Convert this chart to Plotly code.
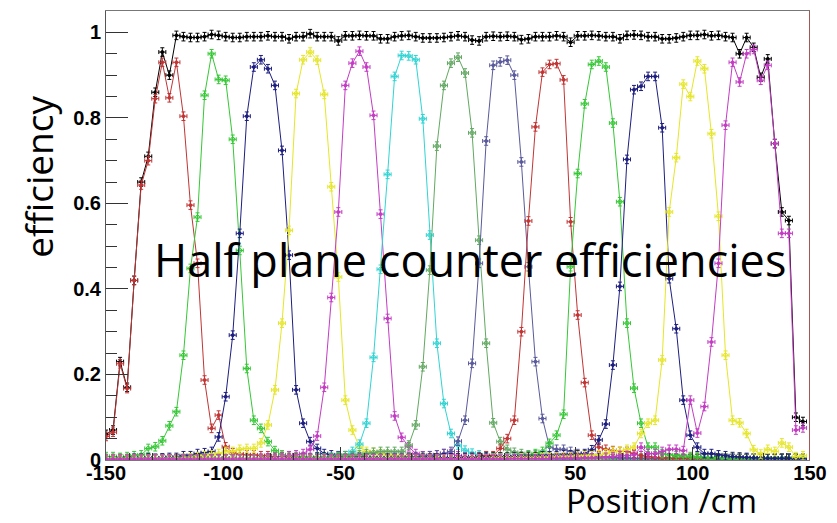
import plotly.graph_objects as go

# bin centres (cm)
positions_cm = list(range(-150, 150, 3))  # 100 bins

red_a = [0.055, 0.065, 0.225, 0.167, 0.42, 0.643, 0.70, 0.845, 0.93, 0.847,
         0.93, 0.804, 0.596, 0.46, 0.187, 0.074, 0.105, 0.031, 0.017, 0.014,
         0.012, 0.012, 0.01, 0.01, 0.008, 0.008, 0.006, 0.006, 0.005, 0.005,
         0.005, 0.004, 0.004, 0.004, 0.004, 0.004, 0.003, 0.003, 0.004, 0.004,
         0.004, 0.003, 0.003, 0.004, 0.004, 0.003, 0.003, 0.003, 0.004, 0.004,
         0.004, 0.003, 0.003, 0.003, 0.004, 0.004, 0.003, 0.003, 0.003, 0.003,
         0.003, 0.003, 0.004, 0.004, 0.003, 0.003, 0.003, 0.004, 0.004, 0.003,
         0.003, 0.003, 0.003, 0.004, 0.004, 0.003, 0.003, 0.003, 0.003, 0.003,
         0.003, 0.003, 0.003, 0.003, 0.003, 0.003, 0.003, 0.003, 0.003, 0.003,
         0.003, 0.003, 0.003, 0.003, 0.003, 0.003, 0.003, 0.003, 0.003, 0.003]

green_a = [0.008, 0.008, 0.006, 0.008, 0.01, 0.012, 0.027, 0.031, 0.045, 0.08,
           0.113, 0.245, 0.448, 0.568, 0.853, 0.95, 0.89, 0.888, 0.75, 0.49,
           0.214, 0.093, 0.074, 0.043, 0.022, 0.012, 0.01, 0.008, 0.008, 0.006,
           0.006, 0.006, 0.005, 0.005, 0.005, 0.005, 0.004, 0.004, 0.004, 0.004,
           0.004, 0.004, 0.004, 0.003, 0.003, 0.004, 0.004, 0.003, 0.003, 0.003,
           0.003, 0.003, 0.004, 0.004, 0.003, 0.003, 0.003, 0.003, 0.003, 0.003,
           0.003, 0.003, 0.003, 0.003, 0.003, 0.003, 0.003, 0.003, 0.003, 0.003,
           0.003, 0.003, 0.003, 0.003, 0.003, 0.003, 0.003, 0.003, 0.003, 0.003,
           0.003, 0.003, 0.003, 0.003, 0.003, 0.003, 0.003, 0.003, 0.003, 0.003,
           0.003, 0.003, 0.003, 0.003, 0.003, 0.003, 0.003, 0.003, 0.003, 0.003]

navy_a = [0.003, 0.003, 0.003, 0.003, 0.004, 0.004, 0.005, 0.004, 0.005, 0.006,
          0.006, 0.01, 0.01, 0.015, 0.017, 0.02, 0.054, 0.148, 0.292, 0.53,
          0.804, 0.919, 0.936, 0.915, 0.876, 0.724, 0.479, 0.164, 0.086, 0.043,
          0.027, 0.015, 0.012, 0.01, 0.01, 0.008, 0.007, 0.006, 0.006, 0.005,
          0.005, 0.005, 0.004, 0.004, 0.004, 0.004, 0.004, 0.003, 0.003, 0.003,
          0.003, 0.003, 0.003, 0.003, 0.003, 0.003, 0.003, 0.003, 0.003, 0.003,
          0.003, 0.003, 0.003, 0.003, 0.003, 0.003, 0.003, 0.003, 0.003, 0.003,
          0.003, 0.003, 0.003, 0.003, 0.003, 0.003, 0.003, 0.003, 0.003, 0.003,
          0.003, 0.003, 0.003, 0.003, 0.003, 0.003, 0.003, 0.003, 0.003, 0.003,
          0.003, 0.003, 0.003, 0.003, 0.003, 0.003, 0.003, 0.003, 0.003, 0.003]

yellow_a = [0.002, 0.002, 0.002, 0.002, 0.002, 0.002, 0.002, 0.002, 0.002, 0.002,
            0.003, 0.004, 0.005, 0.008, 0.01, 0.012, 0.015, 0.02, 0.02, 0.025,
            0.027, 0.027, 0.04, 0.082, 0.164, 0.32, 0.537, 0.857, 0.936, 0.954,
            0.935, 0.855, 0.639, 0.428, 0.14, 0.07, 0.03, 0.02, 0.018, 0.015,
            0.012, 0.01, 0.008, 0.008, 0.006, 0.006, 0.005, 0.005, 0.005, 0.004,
            0.004, 0.004, 0.004, 0.003, 0.003, 0.003, 0.003, 0.003, 0.003, 0.003,
            0.003, 0.003, 0.003, 0.003, 0.003, 0.003, 0.003, 0.003, 0.003, 0.003,
            0.003, 0.003, 0.003, 0.003, 0.003, 0.003, 0.003, 0.003, 0.003, 0.003,
            0.003, 0.003, 0.003, 0.003, 0.003, 0.003, 0.003, 0.003, 0.003, 0.003,
            0.003, 0.003, 0.003, 0.003, 0.003, 0.003, 0.003, 0.003, 0.003, 0.003]

magenta_a = [0.002, 0.002, 0.002, 0.002, 0.002, 0.002, 0.002, 0.002, 0.002, 0.002,
             0.002, 0.002, 0.002, 0.002, 0.002, 0.002, 0.002, 0.002, 0.002, 0.002,
             0.003, 0.003, 0.004, 0.005, 0.006, 0.008, 0.01, 0.012, 0.015, 0.025,
             0.056, 0.17, 0.38, 0.58, 0.876, 0.928, 0.956, 0.919, 0.806, 0.575,
             0.331, 0.103, 0.053, 0.031, 0.015, 0.01, 0.01, 0.012, 0.015, 0.015,
             0.01, 0.008, 0.006, 0.005, 0.005, 0.004, 0.004, 0.004, 0.003, 0.003,
             0.003, 0.003, 0.003, 0.003, 0.003, 0.003, 0.003, 0.003, 0.003, 0.003,
             0.003, 0.003, 0.003, 0.003, 0.003, 0.003, 0.003, 0.003, 0.003, 0.003,
             0.003, 0.003, 0.003, 0.003, 0.003, 0.003, 0.003, 0.003, 0.003, 0.003,
             0.003, 0.003, 0.003, 0.003, 0.003, 0.003, 0.003, 0.003, 0.003, 0.003]

cyan = [0.002, 0.002, 0.002, 0.002, 0.002, 0.002, 0.002, 0.002, 0.002, 0.002,
        0.002, 0.002, 0.002, 0.002, 0.002, 0.002, 0.002, 0.002, 0.002, 0.002,
        0.002, 0.002, 0.002, 0.002, 0.002, 0.002, 0.002, 0.003, 0.003, 0.003,
        0.004, 0.005, 0.006, 0.008, 0.01, 0.02, 0.037, 0.086, 0.24, 0.446,
        0.668, 0.897, 0.946, 0.945, 0.936, 0.798, 0.526, 0.273, 0.132, 0.062,
        0.035, 0.023, 0.016, 0.012, 0.01, 0.008, 0.007, 0.006, 0.005, 0.005,
        0.004, 0.004, 0.004, 0.003, 0.003, 0.003, 0.003, 0.003, 0.003, 0.003,
        0.003, 0.003, 0.003, 0.003, 0.003, 0.003, 0.003, 0.003, 0.003, 0.003,
        0.003, 0.003, 0.003, 0.003, 0.003, 0.003, 0.003, 0.003, 0.003, 0.003,
        0.003, 0.003, 0.003, 0.003, 0.003, 0.003, 0.003, 0.003, 0.003, 0.003]

sage = [0.002, 0.002, 0.002, 0.002, 0.002, 0.002, 0.002, 0.002, 0.002, 0.002,
        0.002, 0.002, 0.002, 0.002, 0.002, 0.002, 0.002, 0.002, 0.002, 0.002,
        0.002, 0.002, 0.002, 0.002, 0.002, 0.002, 0.002, 0.003, 0.003, 0.003,
        0.004, 0.005, 0.006, 0.008, 0.01, 0.01, 0.012, 0.015, 0.018, 0.02,
        0.02, 0.02, 0.02, 0.035, 0.082, 0.218, 0.444, 0.734, 0.876, 0.928,
        0.942, 0.905, 0.765, 0.514, 0.273, 0.087, 0.043, 0.025, 0.018, 0.015,
        0.012, 0.012, 0.01, 0.008, 0.007, 0.006, 0.005, 0.005, 0.004, 0.004,
        0.004, 0.003, 0.003, 0.003, 0.003, 0.003, 0.003, 0.003, 0.003, 0.003,
        0.003, 0.003, 0.003, 0.003, 0.003, 0.003, 0.003, 0.003, 0.003, 0.003,
        0.003, 0.003, 0.003, 0.003, 0.003, 0.003, 0.003, 0.003, 0.003, 0.003]

slate = [0.002, 0.002, 0.002, 0.002, 0.002, 0.002, 0.002, 0.002, 0.002, 0.002,
         0.002, 0.002, 0.002, 0.002, 0.002, 0.002, 0.002, 0.002, 0.002, 0.002,
         0.002, 0.002, 0.002, 0.002, 0.002, 0.002, 0.002, 0.002, 0.002, 0.002,
         0.003, 0.003, 0.003, 0.003, 0.003, 0.004, 0.004, 0.004, 0.004, 0.004,
         0.005, 0.006, 0.006, 0.007, 0.008, 0.009, 0.01, 0.012, 0.015, 0.02,
         0.044, 0.093, 0.226, 0.46, 0.746, 0.923, 0.931, 0.935, 0.9, 0.697,
         0.452, 0.23, 0.097, 0.03, 0.025, 0.025, 0.02, 0.015, 0.012, 0.01,
         0.008, 0.007, 0.006, 0.005, 0.005, 0.004, 0.004, 0.004, 0.003, 0.003,
         0.003, 0.003, 0.003, 0.003, 0.003, 0.003, 0.003, 0.003, 0.003, 0.003,
         0.003, 0.003, 0.003, 0.003, 0.003, 0.003, 0.003, 0.003, 0.003, 0.003]

red_b = [0.003, 0.003, 0.003, 0.003, 0.003, 0.003, 0.003, 0.003, 0.003, 0.003,
         0.003, 0.003, 0.003, 0.003, 0.003, 0.003, 0.003, 0.003, 0.003, 0.003,
         0.003, 0.003, 0.003, 0.003, 0.003, 0.003, 0.003, 0.003, 0.003, 0.003,
         0.003, 0.003, 0.003, 0.003, 0.003, 0.003, 0.003, 0.003, 0.003, 0.003,
         0.003, 0.003, 0.003, 0.003, 0.003, 0.003, 0.004, 0.004, 0.004, 0.004,
         0.005, 0.005, 0.006, 0.008, 0.01, 0.01, 0.027, 0.05, 0.093, 0.3,
         0.559, 0.779, 0.907, 0.925, 0.927, 0.889, 0.557, 0.339, 0.181, 0.058,
         0.03, 0.025, 0.022, 0.02, 0.02, 0.015, 0.01, 0.008, 0.006, 0.005,
         0.004, 0.004, 0.004, 0.004, 0.004, 0.004, 0.004, 0.004, 0.004, 0.004,
         0.004, 0.004, 0.004, 0.004, 0.004, 0.004, 0.004, 0.004, 0.004, 0.004]

green_b = [0.003, 0.003, 0.003, 0.003, 0.003, 0.003, 0.003, 0.003, 0.003, 0.003,
           0.003, 0.003, 0.003, 0.003, 0.003, 0.003, 0.003, 0.003, 0.003, 0.003,
           0.003, 0.003, 0.003, 0.003, 0.003, 0.003, 0.003, 0.003, 0.003, 0.003,
           0.003, 0.003, 0.003, 0.003, 0.003, 0.003, 0.003, 0.003, 0.003, 0.003,
           0.003, 0.003, 0.003, 0.003, 0.003, 0.003, 0.003, 0.003, 0.003, 0.003,
           0.003, 0.003, 0.004, 0.004, 0.004, 0.005, 0.005, 0.006, 0.007, 0.008,
           0.01, 0.015, 0.02, 0.039, 0.058, 0.107, 0.452, 0.67, 0.833, 0.925,
           0.933, 0.919, 0.788, 0.604, 0.32, 0.168, 0.086, 0.03, 0.03, 0.015,
           0.012, 0.01, 0.01, 0.008, 0.007, 0.006, 0.005, 0.005, 0.004, 0.004,
           0.004, 0.004, 0.004, 0.004, 0.004, 0.004, 0.004, 0.004, 0.004, 0.004]

navy_b = [0.003, 0.003, 0.003, 0.003, 0.003, 0.003, 0.003, 0.003, 0.003, 0.003,
          0.003, 0.003, 0.003, 0.003, 0.003, 0.003, 0.003, 0.003, 0.003, 0.003,
          0.003, 0.003, 0.003, 0.003, 0.003, 0.003, 0.003, 0.003, 0.003, 0.003,
          0.003, 0.003, 0.003, 0.003, 0.003, 0.003, 0.003, 0.003, 0.003, 0.003,
          0.003, 0.003, 0.003, 0.003, 0.003, 0.004, 0.004, 0.004, 0.005, 0.005,
          0.005, 0.006, 0.006, 0.006, 0.007, 0.007, 0.007, 0.007, 0.008, 0.008,
          0.008, 0.008, 0.01, 0.01, 0.01, 0.012, 0.012, 0.012, 0.015, 0.024,
          0.047, 0.084, 0.222, 0.406, 0.703, 0.866, 0.874, 0.897, 0.897, 0.777,
          0.424, 0.307, 0.14, 0.058, 0.03, 0.015, 0.015, 0.012, 0.01, 0.008,
          0.007, 0.006, 0.005, 0.005, 0.004, 0.004, 0.004, 0.004, 0.003, 0.003]

yellow_b = [0.002, 0.002, 0.002, 0.002, 0.002, 0.002, 0.002, 0.002, 0.002, 0.002,
            0.002, 0.002, 0.002, 0.002, 0.002, 0.002, 0.002, 0.002, 0.002, 0.002,
            0.002, 0.002, 0.002, 0.002, 0.002, 0.002, 0.002, 0.002, 0.002, 0.002,
            0.002, 0.002, 0.002, 0.002, 0.002, 0.002, 0.002, 0.002, 0.002, 0.002,
            0.002, 0.002, 0.002, 0.002, 0.002, 0.002, 0.002, 0.002, 0.002, 0.002,
            0.003, 0.003, 0.003, 0.003, 0.003, 0.004, 0.004, 0.004, 0.004, 0.005,
            0.005, 0.005, 0.006, 0.006, 0.007, 0.008, 0.008, 0.009, 0.01, 0.01,
            0.012, 0.015, 0.02, 0.02, 0.025, 0.03, 0.062, 0.086, 0.093, 0.234,
            0.58, 0.707, 0.879, 0.85, 0.933, 0.915, 0.763, 0.57, 0.245, 0.093,
            0.087, 0.062, 0.024, 0.014, 0.025, 0.02, 0.04, 0.03, 0.008, 0.01]

magenta_b = [0.002, 0.002, 0.002, 0.002, 0.002, 0.002, 0.002, 0.002, 0.002, 0.002,
             0.002, 0.002, 0.002, 0.002, 0.002, 0.002, 0.002, 0.002, 0.002, 0.002,
             0.002, 0.002, 0.002, 0.002, 0.002, 0.002, 0.002, 0.002, 0.002, 0.002,
             0.002, 0.002, 0.002, 0.002, 0.002, 0.002, 0.002, 0.002, 0.002, 0.002,
             0.002, 0.002, 0.002, 0.002, 0.002, 0.002, 0.002, 0.002, 0.002, 0.002,
             0.002, 0.002, 0.002, 0.002, 0.002, 0.002, 0.002, 0.002, 0.003, 0.003,
             0.003, 0.003, 0.003, 0.003, 0.004, 0.004, 0.004, 0.004, 0.005, 0.005,
             0.005, 0.006, 0.008, 0.01, 0.01, 0.012, 0.03, 0.015, 0.015, 0.02,
             0.025, 0.025, 0.022, 0.14, 0.063, 0.125, 0.276, 0.46, 0.783, 0.93,
             0.884, 0.95, 0.96, 0.888, 0.923, 0.74, 0.53, 0.53, 0.07, 0.075]

total = [0.06, 0.07, 0.23, 0.17, 0.42, 0.65, 0.71, 0.86, 0.954, 0.90,
         0.993, 0.99, 0.988, 0.988, 0.99, 0.995, 0.993, 0.99, 0.988, 0.988,
         0.99, 0.99, 0.99, 0.992, 0.99, 0.99, 0.985, 0.99, 0.99, 0.997,
         0.99, 0.99, 0.99, 0.98, 0.992, 0.992, 0.993, 0.992, 0.992, 0.985,
         0.985, 0.99, 0.992, 0.993, 0.99, 0.987, 0.987, 0.987, 0.988, 0.99,
         0.992, 0.99, 0.982, 0.98, 0.99, 0.991, 0.99, 0.991, 0.99, 0.983,
         0.985, 0.99, 0.99, 0.99, 0.992, 0.99, 0.977, 0.992, 0.992, 0.993,
         0.992, 0.99, 0.99, 0.985, 0.993, 0.994, 0.993, 0.99, 0.99, 0.985,
         0.985, 0.987, 0.99, 0.993, 0.993, 0.995, 0.992, 0.993, 0.99, 0.988,
         0.95, 0.988, 0.965, 0.895, 0.938, 0.74, 0.58, 0.56, 0.10, 0.09]

x_tick_values = [-150, -100, -50, 0, 50, 100, 150]
x_tick_labels = ["-150", "-100", "-50", "0", "50", "100", "150"]
y_tick_values = [0, 0.2, 0.4, 0.6, 0.8, 1.0]
y_tick_labels = ["0", "0.2", "0.4", "0.6", "0.8", "1"]

series = [
    (total, "#000000", "circle"),
    (red_a, "#c23434", "circle"),
    (green_a, "#35c835", "circle-open"),
    (navy_a, "#1e1e80", "circle"),
    (yellow_a, "#e6e628", "circle-open"),
    (magenta_a, "#c43cc4", "circle"),
    (cyan, "#30d4d4", "circle-open"),
    (sage, "#62a862", "circle-open"),
    (slate, "#5a5a9c", "circle"),
    (red_b, "#c23434", "circle"),
    (green_b, "#35c835", "circle-open"),
    (navy_b, "#1e1e80", "circle"),
    (yellow_b, "#e6e628", "circle-open"),
    (magenta_b, "#c43cc4", "circle"),
]

fig = go.Figure()
for vals, color, sym in series:
    fig.add_trace(go.Scatter(
        x=positions_cm, y=vals, mode="lines+markers",
        line=dict(color=color, width=1),
        marker=dict(color=color, size=4 if sym == "circle-open" else 3, symbol=sym,
                    line=dict(width=1, color=color)),
        error_x=dict(type="constant", value=1.5, color=color, thickness=1, width=2),
        error_y=dict(type="constant", value=0.01, color=color, thickness=1, width=2),
        showlegend=False, hoverinfo="skip"))

tick_font = dict(family="Liberation Sans", size=20, color="black", weight="bold")

fig.update_layout(
    width=837, height=523,
    margin=dict(l=106, r=20, t=10, b=63),
    paper_bgcolor="white", plot_bgcolor="white",
    xaxis=dict(range=[-150, 150], tickmode="array", tickvals=x_tick_values,
               ticktext=x_tick_labels, ticks="inside", ticklen=13, tickcolor="#333",
               showline=True, linecolor="#777", linewidth=1, mirror=True,
               showgrid=False, zeroline=False, tickfont=tick_font,
               ticklabelstandoff=-5,
               minor=dict(ticks="inside", ticklen=7, tickmode="linear", tick0=-150,
                          dtick=10, tickcolor="#333", showgrid=False)),
    yaxis=dict(range=[0, 1.05], tickmode="array", tickvals=y_tick_values,
               ticktext=y_tick_labels, ticks="inside", ticklen=22, tickcolor="#333",
               showline=True, linecolor="#555", linewidth=1, mirror=False,
               showgrid=False, zeroline=False, tickfont=tick_font,
               minor=dict(ticks="inside", ticklen=11, tickmode="linear", tick0=0,
                          dtick=0.05, tickcolor="#333", showgrid=False)),
)

fig.add_shape(type="line", xref="x", yref="y", x0=150, x1=150, y0=0, y1=1.05,
              line=dict(color="#8b1c1c", width=1.5))

fig.add_annotation(text="Half plane counter efficiencies", xref="paper", yref="paper",
                   x=0.5176, y=0.4467, xanchor="center", yanchor="middle", showarrow=False,
                   font=dict(family="Open Sans", size=45, color="black"))
fig.add_annotation(text="Position /cm", xref="paper", yref="paper",
                   x=0.9269, y=-0.091, xanchor="right", yanchor="middle", showarrow=False,
                   font=dict(family="Open Sans", size=33, color="black"))
fig.add_annotation(text="efficiency", xref="paper", yref="paper",
                   x=-0.097, y=0.63, xanchor="center", yanchor="middle", showarrow=False,
                   textangle=-90,
                   font=dict(family="Open Sans", size=37, color="black"))

fig.write_html("out.html")
